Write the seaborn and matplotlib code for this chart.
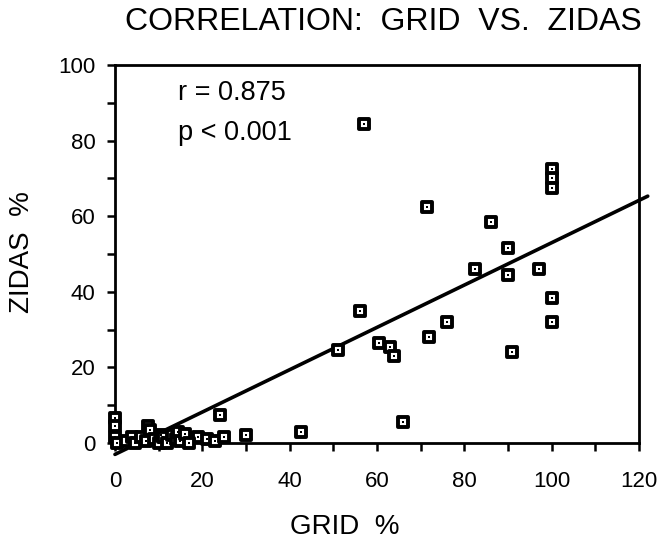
import numpy as np
import pandas as pd
import matplotlib
matplotlib.use('Agg')
import matplotlib.pyplot as plt
from matplotlib.ticker import MultipleLocator
import seaborn as sns

# GRID % vs ZIDAS %
grid = [57, 71.5, 100, 100, 100, 86, 90, 82.5, 90, 97, 100, 100, 56, 76, 72, 51, 60.5, 63, 64, 91, 66, 42.5,
        24, 19, 21, 23, 25, 30,
        0, 0, 0, 0.5, 2.5, 4, 4.5, 6, 7, 7.5, 8, 9, 10, 10.5, 11, 12, 13, 14, 14.5, 15, 16, 17]
zidas = [84.5, 62.5, 72.5, 70, 67.5, 58.5, 51.5, 46, 44.5, 46, 38.5, 32, 35, 32, 28, 24.5, 26.5, 25.5, 23, 24, 5.5, 3,
         7.5, 1.5, 1, 0.5, 1.5, 2,
         6.5, 4.5, 1.5, 0, 0.5, 1.5, 0, 1.5, 0.5, 4.5, 3.5, 1, 0, 2, 1.5, 0, 2, 1, 3, 0.5, 2.5, 0]

# regression line as drawn
fit_intercept = -3.0
fit_slope = 0.56
fit_x = [0, 122]

df = pd.DataFrame({'GRID': grid, 'ZIDAS': zidas})
fit = pd.DataFrame({'x': fit_x, 'y': [fit_intercept + fit_slope * v for v in fit_x]})

sns.set_style('ticks')
plt.rcParams['font.family'] = ['Liberation Sans', 'DejaVu Sans']
plt.rcParams['text.color'] = 'black'
plt.rcParams['axes.labelcolor'] = 'black'
plt.rcParams['xtick.color'] = 'black'
plt.rcParams['ytick.color'] = 'black'

fig = plt.figure(figsize=(6.57, 5.39), dpi=100)
ax = fig.add_axes([0.175, 0.178, 0.7976, 0.7013])

sns.lineplot(data=fit, x='x', y='y', color='black', linewidth=2.6, ax=ax, clip_on=False, zorder=2)
sns.scatterplot(data=df, x='GRID', y='ZIDAS', marker='s', s=62, facecolor='white',
                edgecolor='black', linewidth=2.8, ax=ax, clip_on=False, zorder=3)
sns.scatterplot(data=df, x='GRID', y='ZIDAS', marker='s', s=3, color='black',
                linewidth=0, ax=ax, clip_on=False, zorder=4)

ax.set_xlim(0, 120)
ax.set_ylim(0, 100)
ax.xaxis.set_major_locator(MultipleLocator(20))
ax.xaxis.set_minor_locator(MultipleLocator(10))
ax.yaxis.set_major_locator(MultipleLocator(20))
ax.yaxis.set_minor_locator(MultipleLocator(10))
ax.tick_params(axis='both', which='both', direction='out', length=6, width=1.8, color='black')
ax.tick_params(axis='x', which='major', labelsize=16, pad=14)
ax.tick_params(axis='y', which='major', labelsize=16, pad=8)
for s in ax.spines.values():
    s.set_visible(True)
    s.set_linewidth(2)
    s.set_color('black')

ax.set_xlabel('')
ax.set_ylabel('ZIDAS  %', fontsize=20)
ax.yaxis.set_label_coords(-0.152, 0.505)
fig.text(0.524, 0.01, 'GRID  %', fontsize=20, ha='center', va='baseline')
fig.text(0.583, 0.959, 'CORRELATION:  GRID  VS.  ZIDAS', fontsize=23, ha='center', va='center')

ax.text(14.5, 92.5, 'r = 0.875', fontsize=19.5, va='center', ha='left')
ax.text(14.5, 82, 'p < 0.001', fontsize=19.5, va='center', ha='left')

fig.savefig('out.png', dpi=100)
